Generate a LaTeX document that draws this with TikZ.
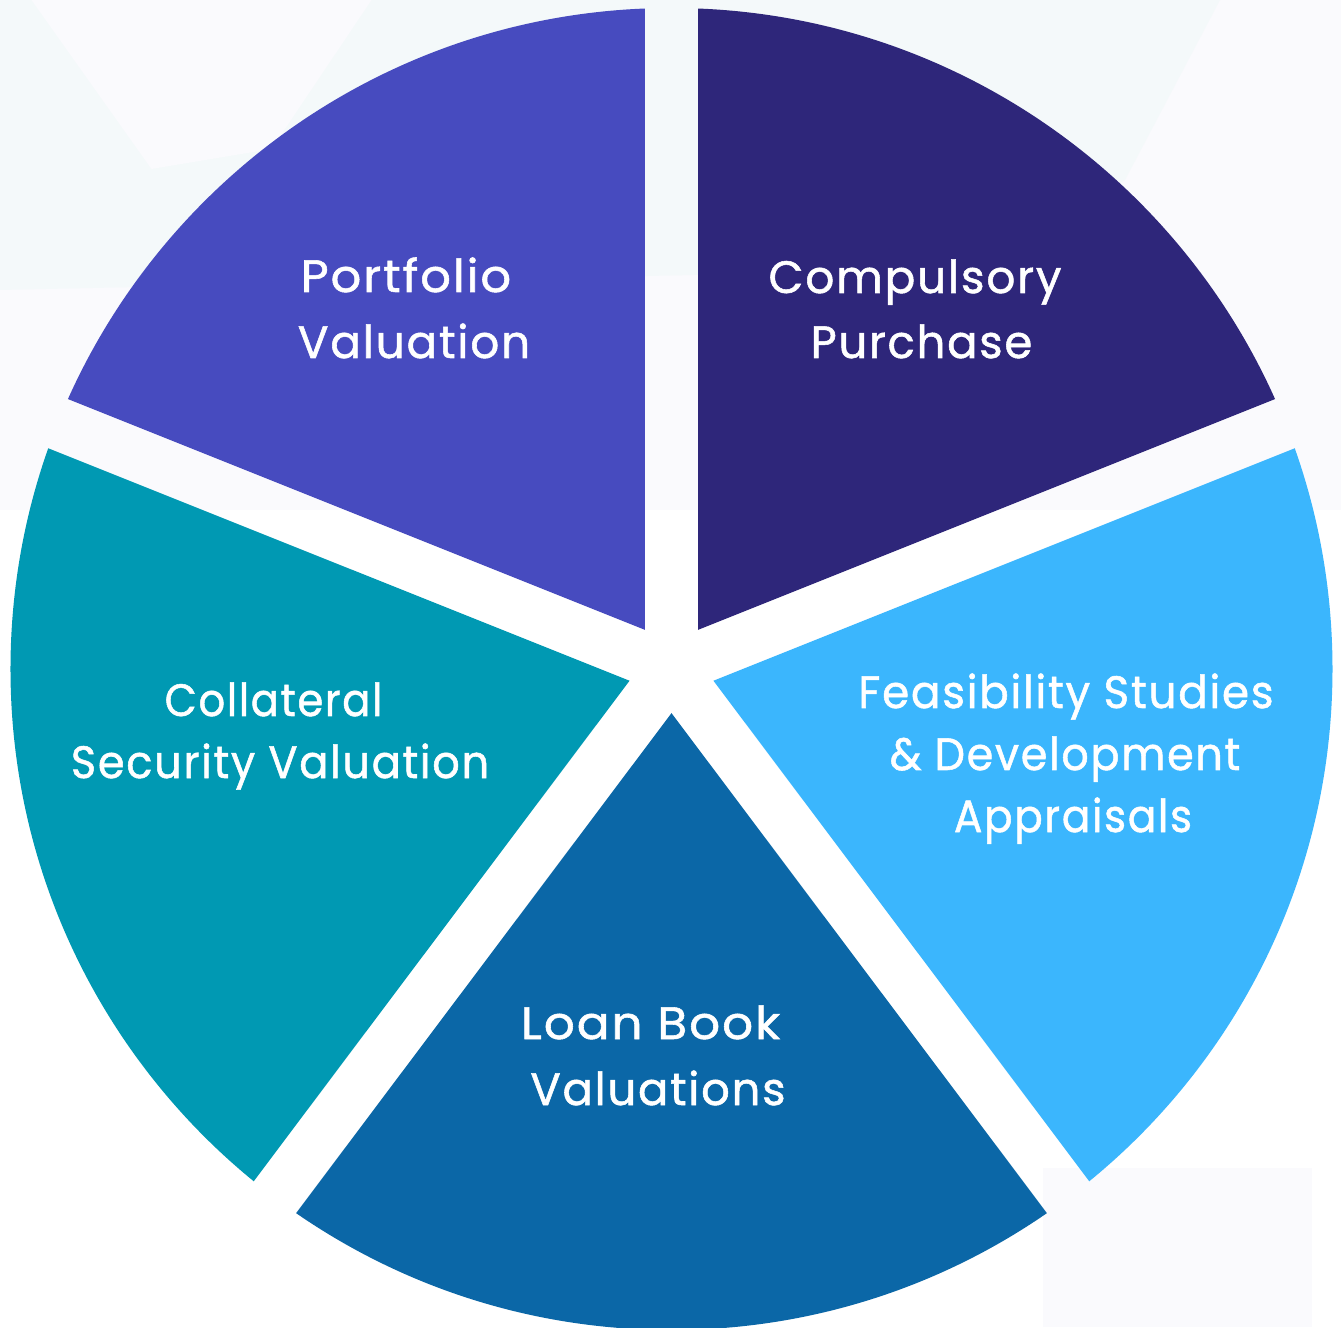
\documentclass[tikz,border=0pt]{standalone}
\usepackage{fontspec}
\setmainfont{Poppins}[LetterSpace=4,FakeBold=1.2]
\usetikzlibrary{calc}
\definecolor{cPort}{HTML}{474BBF}
\definecolor{cComp}{HTML}{2E267A}
\definecolor{cFeas}{HTML}{3BB6FD}
\definecolor{cLoan}{HTML}{0B67A7}
\definecolor{cColl}{HTML}{0099B3}
\definecolor{bgA}{HTML}{F4F9FA}
\definecolor{bgB}{HTML}{FAFAFD}
\newcommand\pieseg[3]{%
  \pgfmathsetmacro\segmid{(#1+#2)/2}%
  \pgfmathsetmacro\segdd{26.5/sin((#2-#1)/2)}%
  \begin{scope}
    \clip (\segmid:\segdd) coordinate (P) -- ($(P)+(#1:1500)$) -- ($(P)+(#2:1500)$) -- cycle;
    \fill[#3] (0,0) circle (661);
  \end{scope}}
\tikzset{lbl/.style={text=white,font=\fontsize{34}{40}\selectfont,anchor=base,inner sep=0pt,xscale=#1,transform shape},
  lbl/.default=1}
\begin{document}
\begin{tikzpicture}[x=0.75pt,y=0.75pt]
% pixel (px,py) -> (px-671.5, 669-py)
\useasboundingbox (-671.5,-658) rectangle (669.5,669);
\fill[white] (-671.5,-658) rectangle (669.5,669);
% faint background shapes
\fill[bgB] (-671.5,159) rectangle (669.5,669);
\fill[bgA] (-671.5,379) -- (-671.5,669) -- (548.5,669) -- (453.5,489) -- (300,400) -- cycle;
\fill[bgB] (-640,669) -- (-520,500) -- (-400,520) -- (-300,669) -- cycle;
\fill[bgB] (371.5,-499) rectangle (640,-658);
% segments
\pieseg{21.8}{90}{cComp}
\pieseg{90}{158.2}{cPort}
\pieseg{158.2}{233.1}{cColl}
\pieseg{233.1}{306.9}{cLoan}
\pieseg{306.9}{381.8}{cFeas}
% labels
\node[lbl=1.06] (port1) at (406-671.5,669-292) {Portfolio};
\node[lbl=1.0] (port2) at (414-671.5,669-358) {Valuation};
\node[lbl=1.0] (comp1) at (915-671.5,669-293) {Compulsory};
\node[lbl=0.99] (comp2) at (921.5-671.5,669-358) {Purchase};
\node[lbl=0.92] (coll1) at (273.5-671.5,669-716) {Collateral};
\node[lbl=0.95] (coll2) at (280-671.5,669-778) {Security Valuation};
\node[lbl=0.963] (feas1) at (1066-671.5,669-708) {Feasibility Studies};
\node[lbl=0.946] (feas2) at (1065-671.5,669-770) {\& Development};
\node[lbl=0.93] (feas3) at (1073-671.5,669-832) {Appraisals};
\node[lbl=1.07] (loan1) at (650.5-671.5,669-1039) {Loan Book};
\node[lbl=0.99] (loan2) at (658-671.5,669-1105) {Valuations};
\end{tikzpicture}
\end{document}
